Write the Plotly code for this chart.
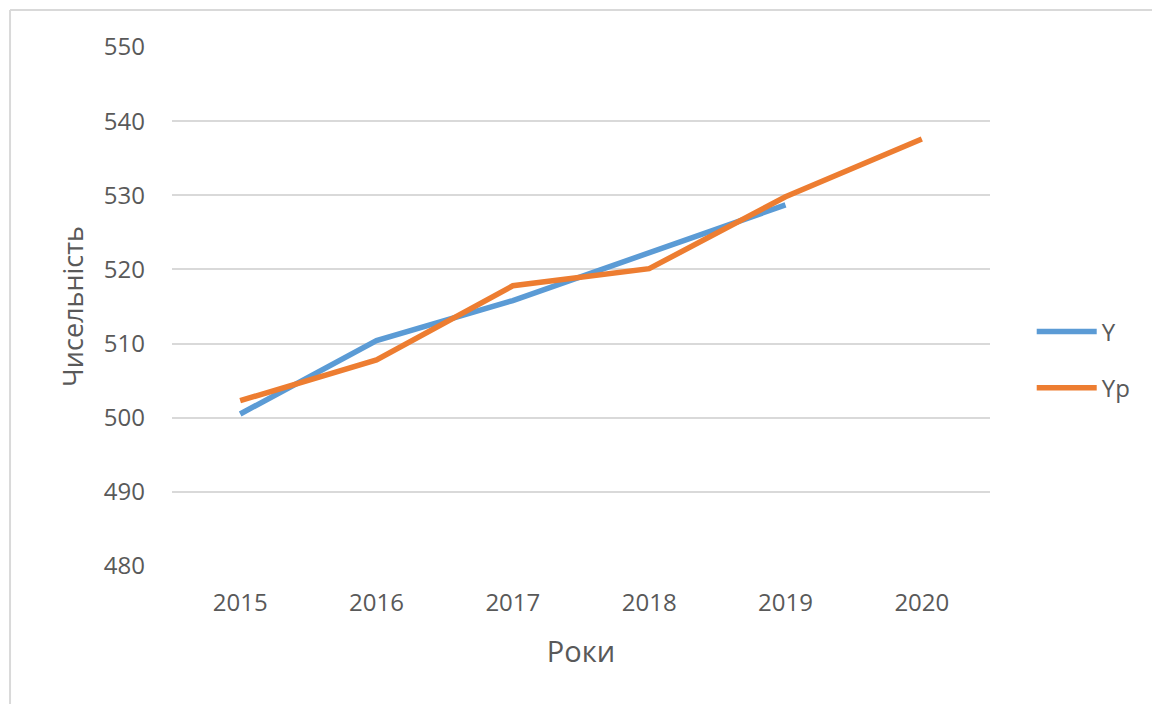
import plotly.graph_objects as go

years = ["2015", "2016", "2017", "2018", "2019", "2020"]
y_actual = [500.5, 510.4, 515.8, 522.3, 528.7]
y_pred = [502.3, 507.8, 517.8, 520.1, 529.8, 537.6]

BLUE = "#5B9BD5"
ORANGE = "#ED7D31"
TEXT = "#595959"
FONT = "Open Sans, sans-serif"

fig = go.Figure()

fig.add_trace(
    go.Scatter(
        x=years[: len(y_actual)],
        y=y_actual,
        mode="lines",
        name="Y",
        legendgroup="Y",
        line=dict(color=BLUE, width=5.5),
    )
)

fig.add_trace(
    go.Scatter(
        x=years,
        y=y_pred,
        mode="lines",
        name="Yp",
        legendgroup="Yp",
        line=dict(color=ORANGE, width=5.5),
    )
)

# chart frame (top and left edges of the cropped Excel chart area)
fig.add_shape(type="line", xref="paper", yref="paper",
              x0=-0.198, x1=1.25, y0=1.0713, y1=1.0713,
              line=dict(color="#D9D9D9", width=2))
fig.add_shape(type="line", xref="paper", yref="paper",
              x0=-0.198, x1=-0.198, y0=1.0713, y1=-0.3,
              line=dict(color="#D9D9D9", width=2))

fig.update_layout(
    width=1160,
    height=704,
    paper_bgcolor="white",
    plot_bgcolor="white",
    margin=dict(l=164, r=178, t=39, b=146),
    font=dict(family=FONT, color=TEXT, size=24),
    xaxis=dict(
        type="category",
        range=[-0.5, 5.5],
        showgrid=False,
        showline=False,
        zeroline=False,
        ticks="",
        tickfont=dict(size=24, color=TEXT),
        ticklabelstandoff=20,
        title=dict(text="Роки", font=dict(size=29, color=TEXT), standoff=24),
    ),
    yaxis=dict(
        range=[480, 550],
        dtick=10,
        showgrid=True,
        gridcolor="#D9D9D9",
        gridwidth=2,
        zeroline=False,
        showline=False,
        ticks="",
        tickfont=dict(size=24, color=TEXT),
        ticklabelstandoff=26,
        title=dict(text="Чисельність", font=dict(size=27, color=TEXT), standoff=12),
    ),
    legend=dict(
        x=1.051,
        y=0.397,
        xanchor="left",
        yanchor="middle",
        traceorder="grouped",
        tracegroupgap=22,
        itemwidth=60,
        font=dict(size=24, color=TEXT),
        bgcolor="rgba(0,0,0,0)",
    ),
)

fig.write_html("out.html")
